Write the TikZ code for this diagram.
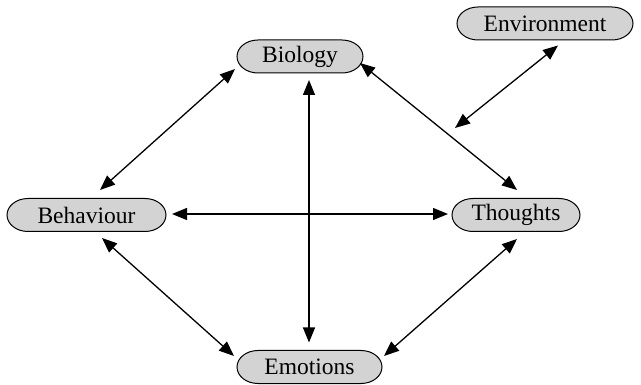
\documentclass[tikz,border=0pt]{standalone}
\usepackage{fontspec}
\setmainfont{Liberation Serif}
\usetikzlibrary{arrows.meta,backgrounds}
\definecolor{nodegray}{RGB}{211,211,211}
\begin{document}
\begin{tikzpicture}[x=1pt,y=-1pt,
  factor/.style={rectangle, inner sep=0pt, outer sep=0pt,
    minimum height=33pt, font=\fontsize{23.5}{27}\selectfont},
  capsule/.style={draw=black, line width=1pt, fill=nodegray},
  link/.style={line width=1.3pt,
    {Triangle[length=15pt,width=12pt]}-{Triangle[length=15pt,width=12pt]}},
]
\useasboundingbox (0,0) rectangle (641,385);

% factors
\node[factor, minimum width=126pt] (bio) at (300,56.5) {Biology};
\node[factor, minimum width=176pt] (env) at (545,23.5) {Environment};
\node[factor, minimum width=159pt] (beh) at (86.5,215) {Behaviour};
\node[factor, minimum width=128pt] (tho) at (516,215) {Thoughts};
\node[factor, minimum width=145pt] (emo) at (309.5,367) {Emotions};

% capsule outlines with elliptical ends behind the labels
\begin{scope}[on background layer]
  \foreach \n in {bio,env,beh,tho,emo}
    \draw[capsule] ([xshift=21pt]\n.north west) -- ([xshift=-21pt]\n.north east)
      arc[start angle=90, end angle=-90, x radius=21pt, y radius=16.5pt]
      -- ([xshift=21pt]\n.south west)
      arc[start angle=270, end angle=90, x radius=21pt, y radius=16.5pt]
      -- cycle;
\end{scope}

% point on the biology--thoughts link reached by the environment
\coordinate (envpt) at (455,128);

% mutual influences
\draw[link] ([shift={(-2,12.5)}]bio.west) -- ([shift={(13.5,-8.5)}]beh.north);
\draw[link] ([shift={(9,7)}]bio.south) -- ([shift={(-0.5,-8)}]emo.north);
\draw[link] ([shift={(-3,6.5)}]bio.east) -- ([shift={(1,-8.5)}]tho.north);
\draw[link] ([shift={(6,-1)}]beh.east) -- ([shift={(-4,-1)}]tho.west);
\draw[link] ([shift={(15.5,6.5)}]beh.south) -- ([shift={(-3,-11)}]emo.west);
\draw[link] ([shift={(1,7.5)}]tho.south) -- ([shift={(2,-11)}]emo.east);
\draw[link] ([shift={(13,5.5)}]env.south) -- (envpt);
\end{tikzpicture}
\end{document}
